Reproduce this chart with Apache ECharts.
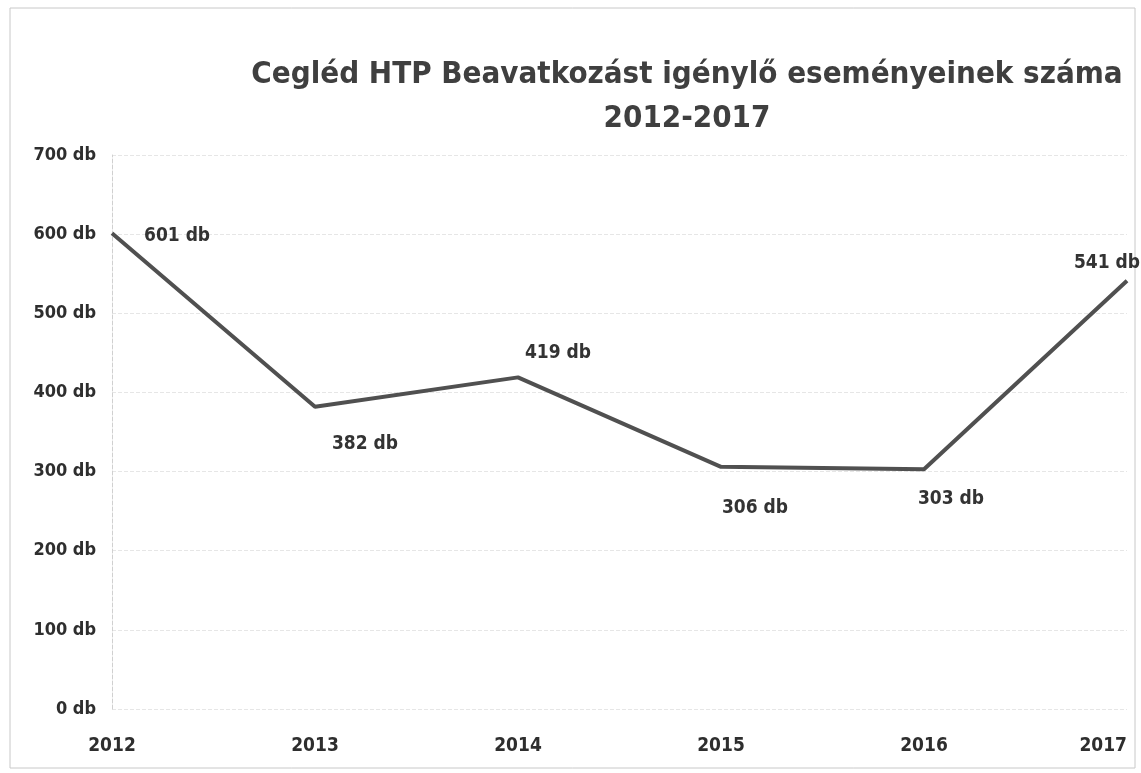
<!DOCTYPE html>
<html>
<head>
<meta charset="utf-8">
<script src="https://cdn.jsdelivr.net/npm/echarts@6/dist/echarts.min.js"></script>
<style>
  html, body { margin: 0; padding: 0; background: #fff; }
  #chart { width: 1141px; height: 773px; }
</style>
</head>
<body>
<div id="chart"></div>
<script>
const years = ['2012', '2013', '2014', '2015', '2016', '2017'];
const events = [601, 382, 419, 306, 303, 541];
// where each value label sits relative to its point
const labelPos = [
    { position: 'right', offset: [26, 3] },
    { position: 'bottom', offset: [50, 22] },
    { position: 'top', offset: [40, -9] },
    { position: 'bottom', offset: [34, 26] },
    { position: 'bottom', offset: [27, 14] },
    { position: 'top', offset: [-20, -2] }
];

const font = '"DejaVu Sans Condensed", "Liberation Sans Narrow", "Open Sans", sans-serif';

const chart = echarts.init(document.getElementById('chart'));

chart.setOption({
    animation: false,
    title: {
        text: 'Cegléd HTP Beavatkozást igénylő eseményeinek száma\n2012-2017',
        left: 682,
        top: 48,
        textAlign: 'center',
        textStyle: {
            fontFamily: font,
            fontSize: 31,
            fontWeight: 'bold',
            color: '#3f3f3f',
            lineHeight: 44
        }
    },
    graphic: [{
        type: 'rect',
        shape: { x: 10, y: 8, width: 1125, height: 760 },
        style: { fill: 'none', stroke: '#c8c8c8', lineWidth: 1 },
        silent: true
    }],
    grid: {
        left: 112,
        right: 14,
        top: 155,
        bottom: 64,
        containLabel: false,
        outerBoundsMode: 'none'
    },
    xAxis: {
        type: 'category',
        boundaryGap: false,
        data: years,
        axisLine: { show: false },
        axisTick: { show: false },
        axisLabel: {
            fontFamily: font,
            fontSize: 19,
            fontWeight: 'bold',
            color: '#2e2e2e',
            margin: 28,
            alignMaxLabel: 'right'
        }
    },
    yAxis: {
        type: 'value',
        min: 0,
        max: 700,
        interval: 100,
        axisLine: { show: true, lineStyle: { color: '#d0d0d0', type: 'dashed' } },
        axisLabel: {
            fontFamily: font,
            fontSize: 18,
            fontWeight: 'bold',
            color: '#2e2e2e',
            margin: 16,
            formatter: v => v + ' db'
        },
        splitLine: { lineStyle: { color: '#e6e6e6', type: 'dashed' } }
    },
    series: [{
        type: 'line',
        data: events.map((v, i) => ({ value: v, label: labelPos[i] })),
        symbol: 'circle',
        symbolSize: 2,
        itemStyle: { color: 'rgba(0,0,0,0)', borderWidth: 0 },
        lineStyle: { color: '#505050', width: 4 },
        label: {
            show: true,
            fontFamily: font,
            fontSize: 19,
            fontWeight: 'bold',
            color: '#333',
            formatter: p => p.value + ' db'
        }
    }]
});
</script>
</body>
</html>
